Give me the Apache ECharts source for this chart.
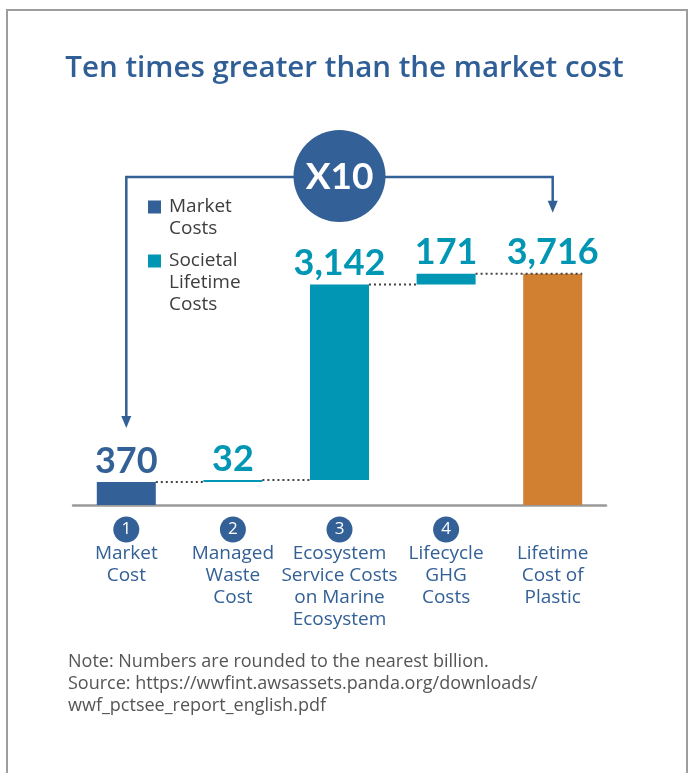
<!DOCTYPE html>
<html>
<head>
<meta charset="utf-8">
<script src="https://cdn.jsdelivr.net/npm/echarts@6/dist/echarts.min.js"></script>
<style>
html,body{margin:0;padding:0;background:#fff;}
#c{width:689px;height:773px;}
</style>
</head>
<body>
<div id="c"></div>
<script>
// ---- data ----
const categories = ['Market Cost', 'Managed Waste Cost', 'Ecosystem Service Costs on Marine Ecosystem', 'Lifecycle GHG Costs', 'Lifetime Cost of Plastic'];
const categoryLines = [['Market', 'Cost'], ['Managed', 'Waste', 'Cost'], ['Ecosystem', 'Service Costs', 'on Marine', 'Ecosystem'], ['Lifecycle', 'GHG', 'Costs'], ['Lifetime', 'Cost of', 'Plastic']];
const stepNumbers = ['1', '2', '3', '4', ''];
const marketCosts = [370, '-', '-', '-', '-'];
const societalCosts = ['-', 32, 3142, 171, '-'];
const lifetimeTotal = ['-', '-', '-', '-', 3716];
const legendNames = ['Market Costs', 'Societal Lifetime Costs'];
const multiplierText = 'X10';
const titleText = 'Ten times greater than the market cost';
const noteLines = ['Note: Numbers are rounded to the nearest billion.', 'Source: https://wwfint.awsassets.panda.org/downloads/', 'wwf_pctsee_report_english.pdf'];

// ---- derived waterfall bases ----
const stepValues = categories.map((c, i) => {
  const v = [marketCosts[i], societalCosts[i]].find(x => x !== '-');
  return v === undefined ? null : v;
});
const baseValues = [];
let run = 0;
stepValues.forEach((v, i) => {
  if (v === null) { baseValues.push(0); }
  else { baseValues.push(run); run += v; }
});
const connectorData = [];
let acc = 0;
for (let i = 0; i < 4; i++) { acc += stepValues[i]; connectorData.push([i, acc]); }

// ---- style ----
const BLUE = '#336096', TEAL = '#0096b4', ORANGE = '#d08030';
const FONT = 'Lato', TFONT = 'Open Sans';
const BAR_W = 59;

const chart = echarts.init(document.getElementById('c'));
const fmt = v => Number(v).toLocaleString('en-US');
const labelStyle = color => ({
  show: true, position: 'top', distance: 3, color: color,
  fontFamily: FONT, fontWeight: 'bold', fontSize: 36,
  formatter: p => fmt(p.value)
});

const option = {
  backgroundColor: '#fff',
  animation: false,
  title: {
    text: titleText, left: 'center', top: 49,
    textStyle: { color: '#2f5f96', fontFamily: TFONT, fontWeight: 600, fontSize: 29.5 }
  },
  legend: [
    {
      data: [legendNames[0]], left: 148, top: 174, padding: 0, orient: 'vertical',
      icon: 'rect', itemWidth: 13, itemHeight: 13, selectedMode: false,
      formatter: () => '\nMarket\nCosts',
      textStyle: { fontFamily: TFONT, fontSize: 19, lineHeight: 22, color: '#3d3d3d', padding: [0, 0, 0, 3] }
    },
    {
      data: [legendNames[1]], left: 148, top: 206, padding: 0, orient: 'vertical',
      icon: 'rect', itemWidth: 13, itemHeight: 13, selectedMode: false,
      formatter: () => '\n\nSocietal\nLifetime\nCosts',
      textStyle: { fontFamily: TFONT, fontSize: 19, lineHeight: 22, color: '#3d3d3d', padding: [0, 0, 0, 3] }
    }
  ],
  grid: { left: 73, right: 83, top: 256, bottom: 268 },
  xAxis: {
    type: 'category', data: categories,
    axisTick: { show: false },
    axisLine: { lineStyle: { color: '#9a9a9a', width: 2.5 } },
    axisLabel: {
      interval: 0, margin: 11,
      formatter: (v, i) => {
        const head = stepNumbers[i] ? '{n|' + stepNumbers[i] + '}' : '{e| }';
        return head + '\n' + categoryLines[i].map(l => '{t|' + l + '}').join('\n');
      },
      rich: {
        n: { width: 26, height: 26, lineHeight: 27, borderRadius: 13, backgroundColor: BLUE, color: '#fff', align: 'center', fontFamily: TFONT, fontSize: 17 },
        e: { height: 26, lineHeight: 27, fontSize: 18 },
        t: { color: BLUE, fontFamily: TFONT, fontSize: 19, lineHeight: 22, align: 'center' }
      }
    }
  },
  yAxis: { type: 'value', show: false, min: 0, max: 4000, splitLine: { show: false } },
  series: [
    { name: 'base', type: 'bar', stack: 'w', barWidth: BAR_W, data: baseValues, itemStyle: { color: 'rgba(0,0,0,0)' }, silent: true },
    { name: legendNames[0], type: 'bar', stack: 'w', barWidth: BAR_W, data: marketCosts, itemStyle: { color: BLUE }, label: labelStyle(BLUE) },
    { name: legendNames[1], type: 'bar', stack: 'w', barWidth: BAR_W, data: societalCosts, itemStyle: { color: TEAL }, label: labelStyle(TEAL) },
    { name: 'Lifetime Cost of Plastic', type: 'bar', stack: 'w', barWidth: BAR_W, data: lifetimeTotal, itemStyle: { color: ORANGE }, label: labelStyle(TEAL) },
    {
      name: 'connectors', type: 'custom', z: 5, silent: true,
      data: connectorData,
      encode: { x: 0, y: 1 },
      renderItem: (params, api) => {
        const i = api.value(0), lvl = api.value(1);
        const p1 = api.coord([i, lvl]);
        const p2 = api.coord([i + 1, lvl]);
        const last = (i + 1 === categories.length - 1);
        const x2 = last ? p2[0] + BAR_W / 2 : p2[0] - BAR_W / 2;
        return {
          type: 'line',
          shape: { x1: p1[0] + BAR_W / 2, y1: p1[1], x2: x2, y2: p1[1] },
          style: { stroke: '#444', lineWidth: 2, lineDash: [2, 3] }
        };
      }
    }
  ]
};
chart.setOption(option);

// ---- annotations positioned from the bars ----
const pL = chart.convertToPixel({ seriesIndex: 1 }, [0, stepValues[0]]);
const pR = chart.convertToPixel({ seriesIndex: 3 }, [4, lifetimeTotal[4]]);
const xL = pL[0], xR = pR[0];
const topY = 177;
const tipL = pL[1] - 54, tipR = pR[1] - 61;
const cx = (xL + xR) / 2;
const graphics = [
  { type: 'rect', shape: { x: 7, y: 10, width: 680, height: 800 }, style: { fill: 'none', stroke: '#9d9d9d', lineWidth: 2 }, z: 0 },
  { type: 'polyline', shape: { points: [[xL, tipL - 8], [xL, topY], [xR, topY], [xR, tipR - 8]] }, style: { stroke: BLUE, lineWidth: 2.5, fill: 'none' }, z: 10 },
  { type: 'polygon', shape: { points: [[xL - 5, tipL - 12], [xL + 5, tipL - 12], [xL, tipL]] }, style: { fill: BLUE }, z: 10 },
  { type: 'polygon', shape: { points: [[xR - 5, tipR - 12], [xR + 5, tipR - 12], [xR, tipR]] }, style: { fill: BLUE }, z: 10 },
  { type: 'circle', shape: { cx: cx, cy: 176, r: 46 }, style: { fill: BLUE }, z: 11 },
  { type: 'text', x: cx, y: 177, style: { text: multiplierText, fill: '#fff', font: 'bold 37px Lato', textAlign: 'center', textVerticalAlign: 'middle' }, z: 12 },
  { type: 'text', left: 68, top: 651, style: { text: noteLines.join('\n'), fill: '#555', font: '18px "Open Sans"', lineHeight: 22 }, z: 10 }
];
chart.setOption({ graphic: graphics });
</script>
</body>
</html>
